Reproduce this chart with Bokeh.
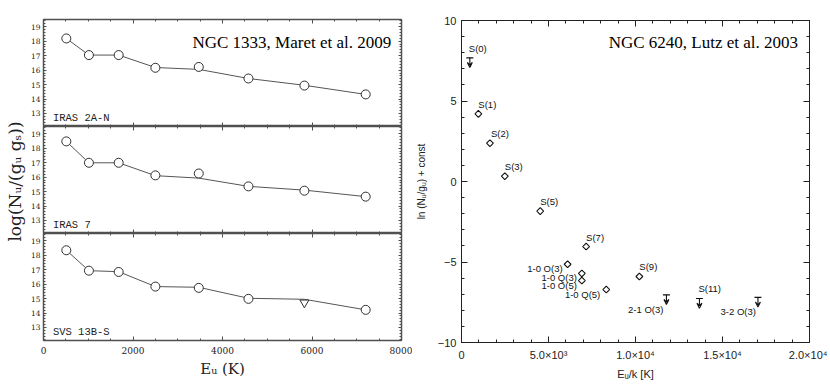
import numpy as np
from bokeh.plotting import figure
from bokeh.layouts import row, column
from bokeh.models import (Range1d, LinearAxis, FixedTicker, Label, Arrow, VeeHead,
                          ColumnDataSource, CustomJSTickFormatter)
from bokeh.core.properties import value
from bokeh.embed import file_html
from bokeh.resources import INLINE

# ---------------- data: NGC 1333 (Maret et al. 2009) ----------------
E_u = [510, 1015, 1680, 2500, 3470, 4580, 5830, 7200]
iras2a_obs = [18.19, 17.04, 17.04, 16.16, 16.22, 15.42, 14.93, 14.32]
iras2a_mod = [18.19, 17.04, 17.04, 16.18, 16.05, 15.42, 14.95, 14.32]
iras7_obs = [18.47, 16.99, 16.99, 16.12, 16.25, 15.36, 15.06, 14.65]
iras7_mod = [18.47, 16.99, 16.99, 16.10, 15.93, 15.36, 15.10, 14.65]
svs13_obs = [18.34, 16.93, 16.84, 15.83, 15.74, 14.98, 14.72, 14.22]
svs13_mod = [18.34, 16.93, 16.86, 15.83, 15.78, 15.02, 14.95, 14.22]
svs13_upper = [False, False, False, False, False, False, True, False]
panel_names = ["IRAS 2A-N", "IRAS 7", "SVS 13B-S"]

left_xticks = [0, 2000, 4000, 6000, 8000]
left_xminor = list(range(0, 8001, 500))
left_yticks = [13, 14, 15, 16, 17, 18, 19]
left_yminor = [round(v, 1) for v in np.arange(12.2, 19.5, 0.2)]

# ---------------- data: NGC 6240 (Lutz et al. 2003) ----------------
det_labels = ["S(1)", "S(2)", "S(3)", "S(5)", "S(7)", "1-0 O(3)", "1-0 Q(3)",
              "1-0 O(5)", "1-0 Q(5)", "S(9)"]
det_E = [969, 1635, 2490, 4524, 7162, 6097, 6917, 6917, 8319, 10222]
det_lnN = [4.20, 2.38, 0.33, -1.84, -4.04, -5.14, -5.71, -6.15, -6.71, -5.90]
lim_labels = ["S(0)", "2-1 O(3)", "S(11)", "3-2 O(3)"]
lim_E = [479, 11778, 13675, 17037]
lim_lnN = [7.68, -7.04, -7.27, -7.20]

right_xticks = [0, 5000, 10000, 15000, 20000]
right_xtick_labels = ["0", "5.0\u00d710\u00b3", "1.0\u00d710\u2074", "1.5\u00d710\u2074", "2.0\u00d710\u2074"]
right_xminor = list(range(0, 20001, 1000))
right_yticks = [-10, -5, 0, 5, 10]
right_yminor = list(range(-10, 11, 1))

# label placement (screen px offsets), kept apart from the data
above_right = {"S(0)": (-1, -4), "S(1)": (0, -4), "S(2)": (1, -4), "S(3)": (0, -4),
               "S(5)": (0, -4), "S(7)": (0, -4), "S(9)": (0, -4), "S(11)": (-1, -5)}
below_left = {"1-0 O(3)": (-5, 10), "1-0 Q(3)": (-5, 10), "1-0 O(5)": (-5, 10),
              "1-0 Q(5)": (-6, 10), "2-1 O(3)": (-3, 20), "3-2 O(3)": (-2, 20)}

SERIF = "DejaVu Serif"
TIMES = "Liberation Serif"
SANS = "Liberation Sans"
FRAME = "#505050"
INK = "#303030"
TOTAL_H = 385


def tick_style(ax, major=5, minor=2, color=FRAME):
    ax.major_tick_in = major
    ax.major_tick_out = 0
    ax.minor_tick_in = minor
    ax.minor_tick_out = 0
    ax.major_tick_line_color = color
    ax.minor_tick_line_color = color
    ax.axis_line_color = None


def mute(ax):
    ax.formatter = CustomJSTickFormatter(code="return ''")
    ax.major_label_text_font_size = "1px"
    ax.major_label_standoff = 0


# ---------------- shared y label of the left column ----------------
lab = figure(width=27, height=TOTAL_H, output_backend="svg", toolbar_location=None,
             x_range=Range1d(0, 1), y_range=Range1d(0, 1), min_border=0,
             x_axis_location=None, y_axis_location=None)
lab.grid.visible = False
lab.outline_line_color = None
lab.text(x=[0.55], y=[0.5], text=["log(N\u1d64/(g\u1d64 g\u209b))"], angle=np.pi / 2,
         text_font=value(SERIF), text_font_size="17px", text_color="#222",
         text_align="center", text_baseline="middle")

# ---------------- left column ----------------
LW = 385
left_figs = []
obs_sets = [iras2a_obs, iras7_obs, svs13_obs]
mod_sets = [iras2a_mod, iras7_mod, svs13_mod]
heights = [126, 107, 152]
for i in range(3):
    top = 19 if i == 0 else 0
    bottom = 45 if i == 2 else 0
    p = figure(width=LW, height=heights[i], output_backend="svg", toolbar_location=None,
               x_range=Range1d(0, 8000), y_range=Range1d(12.1, 19.5),
               min_border_left=15, min_border_right=11, min_border_top=top,
               min_border_bottom=bottom, x_axis_location=None, y_axis_location=None)
    p.grid.visible = False
    p.outline_line_color = FRAME
    p.outline_line_width = 1.5

    xb = LinearAxis(ticker=FixedTicker(ticks=left_xticks, minor_ticks=left_xminor))
    xt = LinearAxis(ticker=FixedTicker(ticks=left_xticks, minor_ticks=left_xminor))
    yl = LinearAxis(ticker=FixedTicker(ticks=left_yticks, minor_ticks=left_yminor))
    yr = LinearAxis(ticker=FixedTicker(ticks=left_yticks, minor_ticks=left_yminor))
    for ax in (xb, xt):
        tick_style(ax, 4, 2)
    for ax in (yl, yr):
        tick_style(ax, 3, 2)
    mute(xt)
    mute(yr)
    if i == 2:
        xb.major_label_text_font = SERIF
        xb.major_label_text_font_size = "9px"
        xb.major_label_text_color = "#222"
        xb.major_label_standoff = 6
        xb.axis_label = "E\u1d64 (K)"
        xb.axis_label_text_font = SERIF
        xb.axis_label_text_font_size = "15px"
        xb.axis_label_text_font_style = "normal"
        xb.axis_label_text_color = "#222"
        xb.axis_label_standoff = 3
    else:
        mute(xb)
    yl.major_label_text_font = SERIF
    yl.major_label_text_font_size = "7.5px"
    yl.major_label_text_color = "#222"
    yl.major_label_standoff = 3
    p.add_layout(xb, "below")
    p.add_layout(xt, "above")
    p.add_layout(yl, "left")
    p.add_layout(yr, "right")

    p.line(E_u, mod_sets[i], line_color="#555555", line_width=1)
    obs = np.array(obs_sets[i])
    E_arr = np.array(E_u)
    if i == 2:
        up = np.array(svs13_upper)
        p.scatter(E_arr[~up], obs[~up], marker="circle", size=9, fill_color="white",
                  line_color=INK, line_width=1)
        p.scatter(E_arr[up], obs[up], marker="inverted_triangle", size=9, fill_color="white",
                  line_color=INK, line_width=1)
    else:
        p.scatter(E_arr, obs, marker="circle", size=9, fill_color="white",
                  line_color=INK, line_width=1)

    p.add_layout(Label(x=210, y=12.68, text=panel_names[i], text_font="Liberation Mono",
                       text_font_size="10.5px", text_color="#222", text_baseline="alphabetic"))
    if i == 0:
        p.add_layout(Label(x=7770, y=17.93, text="NGC 1333, Maret et al. 2009", text_font=TIMES,
                           text_font_size="17px", text_color="black", text_align="right",
                           text_baseline="alphabetic"))
    left_figs.append(p)

# ---------------- right figure ----------------
q = figure(width=415, height=TOTAL_H, output_backend="svg", toolbar_location=None,
           x_range=Range1d(0, 20000), y_range=Range1d(-10, 10),
           min_border_left=46, min_border_right=18, min_border_top=20, min_border_bottom=43,
           x_axis_location=None, y_axis_location=None)
q.grid.visible = False
q.outline_line_color = "#222"
q.outline_line_width = 1
xb = LinearAxis(ticker=FixedTicker(ticks=right_xticks, minor_ticks=right_xminor))
xt = LinearAxis(ticker=FixedTicker(ticks=right_xticks, minor_ticks=right_xminor))
yl = LinearAxis(ticker=FixedTicker(ticks=right_yticks, minor_ticks=right_yminor))
yr = LinearAxis(ticker=FixedTicker(ticks=right_yticks, minor_ticks=right_yminor))
for ax in (xb, xt, yl, yr):
    tick_style(ax, 6, 3, "#222")
mute(xt)
mute(yr)
xb.major_label_overrides = {t: s for t, s in zip(right_xticks, right_xtick_labels)}
for ax in (xb, yl):
    ax.major_label_text_font = SANS
    ax.major_label_text_font_size = "11px"
    ax.major_label_text_color = "#222"
    ax.axis_label_text_font = SANS
    ax.axis_label_text_font_style = "normal"
    ax.axis_label_text_color = "#222"
xb.major_label_standoff = 6
xb.axis_label = "E\u1d64/k [K]"
xb.axis_label_text_font_size = "11px"
xb.axis_label_standoff = 4
yl.major_label_standoff = 5
yl.axis_label = "ln (N\u1d64/g\u1d64) + const"
yl.axis_label_text_font_size = "10px"
yl.axis_label_standoff = 8
q.add_layout(xb, "below")
q.add_layout(xt, "above")
q.add_layout(yl, "left")
q.add_layout(yr, "right")

q.scatter(det_E, det_lnN, marker="square", angle=np.pi / 4, size=4.8, fill_color="white",
          line_color="#111", line_width=1.1)

lim_src = ColumnDataSource(dict(x=lim_E, y=lim_lnN, y_end=[v - 0.6 for v in lim_lnN]))
q.scatter("x", "y", source=lim_src, marker="dash", size=7, line_color="#111", line_width=1.1)
q.add_layout(Arrow(end=VeeHead(size=5, line_color="#111", line_width=1.1, fill_color=None),
                   x_start="x", y_start="y", x_end="x", y_end="y_end", source=lim_src,
                   line_color="#111", line_width=1.1))

all_lab = det_labels + lim_labels
all_x = det_E + lim_E
all_y = det_lnN + lim_lnN
for group, align in ((above_right, "left"), (below_left, "right")):
    idx = [k for k, s in enumerate(all_lab) if s in group]
    src = ColumnDataSource(dict(x=[all_x[k] for k in idx], y=[all_y[k] for k in idx],
                                t=[all_lab[k] for k in idx],
                                dx=[group[all_lab[k]][0] for k in idx],
                                dy=[group[all_lab[k]][1] for k in idx]))
    q.text("x", "y", text="t", x_offset="dx", y_offset="dy", source=src,
           text_font=value(SANS), text_font_size="9.5px", text_color="#111",
           text_align=align, text_baseline="bottom")

q.add_layout(Label(x=19340, y=8.65, text="NGC 6240, Lutz et al. 2003", text_font=TIMES,
                   text_font_size="17px", text_color="black", text_align="right",
                   text_baseline="alphabetic"))

layout = row(lab, column(*left_figs), q)
open("out.html", "w").write(file_html(layout, INLINE))
